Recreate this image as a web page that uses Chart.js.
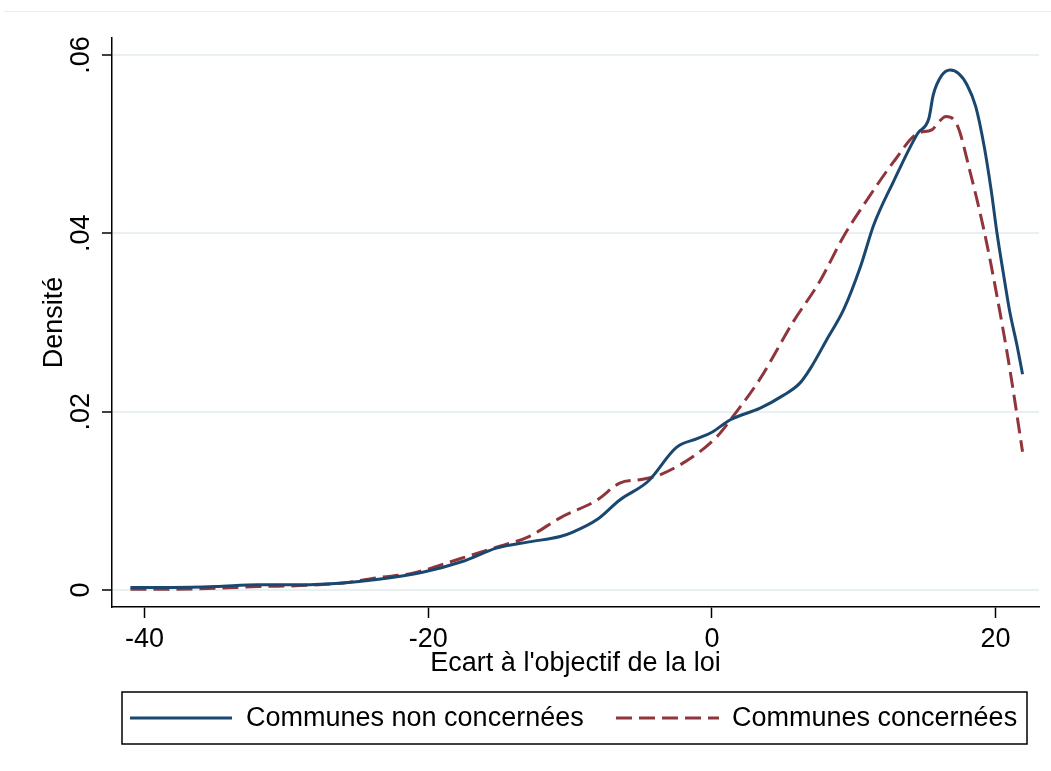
<!DOCTYPE html>
<html lang="fr">
<head>
<meta charset="utf-8">
<title>Densité de l'écart à l'objectif de la loi</title>
<script src="https://cdn.jsdelivr.net/npm/chart.js@4/dist/chart.umd.min.js"></script>
<style>
  html, body { margin: 0; padding: 0; background: #ffffff; }
  #wrap { width: 1051px; height: 771px; position: relative; }
  canvas { display: block; }
</style>
</head>
<body>
<div id="wrap"><canvas id="densite" width="1051" height="771"></canvas></div>
<script>
// Kernel density estimates of the gap to the legal target
const seriesNames = ['Communes non concernées', 'Communes concernées'];

const xNonConcernees = [-41.0, -38, -35, -32, -29, -26, -23.5, -20.4, -17.6, -15.2, -12.9, -10.7, -9.8, -8.1, -6.5, -4.5, -2.5, -1, 0, 1.3, 3.4, 5, 6.2, 7, 8.1, 9.3, 10.5, 11.4, 12.8, 14.5, 15.3, 15.6, 16.2, 16.8, 17.4, 18.0, 18.6, 19.2, 19.7, 20.1, 20.6, 21.0, 21.5, 21.9];
const yNonConcernees = [0.0003, 0.0003, 0.0004, 0.0006, 0.0006, 0.0008, 0.0012, 0.0020, 0.0032, 0.0047, 0.0054, 0.0060, 0.0065, 0.0079, 0.0101, 0.0122, 0.0160, 0.0170, 0.0177, 0.0191, 0.0204, 0.0218, 0.0232, 0.0250, 0.0281, 0.0315, 0.0364, 0.0409, 0.0458, 0.0512, 0.0529, 0.0555, 0.0577, 0.0583, 0.0579, 0.0566, 0.0542, 0.0497, 0.0447, 0.0400, 0.0350, 0.0312, 0.0275, 0.0242];

const xConcernees = [-41.0, -38, -35, -32, -29, -26, -23.5, -21.1, -17.6, -15.2, -12.9, -10.7, -8.1, -6.5, -5, -3.7, -1.3, 0.35, 1.5, 3.4, 5.7, 7.6, 9.3, 11.0, 12.8, 14.5, 15.5, 16.0, 16.5, 17.3, 18.2, 19.2, 20.0, 21.0, 21.9];
const yConcernees = [0.0001, 0.0001, 0.0002, 0.0004, 0.0005, 0.0008, 0.0014, 0.0019, 0.0036, 0.0048, 0.0060, 0.0081, 0.0101, 0.0120, 0.0124, 0.0129, 0.0150, 0.0172, 0.0195, 0.0237, 0.0300, 0.0346, 0.0397, 0.0439, 0.0480, 0.0512, 0.0516, 0.0525, 0.0531, 0.0521, 0.0469, 0.0402, 0.0338, 0.0248, 0.0155];

const xTickValues = [-40, -20, 0, 20];
const yTickValues = [0, 0.02, 0.04, 0.06];
const yTickLabels = ['0', '.02', '.04', '.06'];

const xTitle = "Ecart à l'objectif de la loi";
const yTitle = 'Densité';

const BLUE = '#1a476f';
const RED = '#90353b';
const GRID = '#e9f0f2';
const FONT = "'Liberation Sans', Arial, sans-serif";
const FS = 27;

const toPoints = (xs, ys) => xs.map((x, i) => ({ x: x, y: ys[i] }));

// Boxed legend below the plot, two keys on one row
const boxedLegend = {
  id: 'boxedLegend',
  afterDraw(chart) {
    const ctx = chart.ctx;
    const box = { l: 122, t: 692, r: 1027, b: 744 };
    const cy = (box.t + box.b) / 2;
    ctx.save();
    ctx.strokeStyle = '#000000';
    ctx.lineWidth = 1.5;
    ctx.strokeRect(box.l, box.t, box.r - box.l, box.b - box.t);
    const keys = [
      { x0: 130, x1: 232, tx: 246, ds: chart.data.datasets[0] },
      { x0: 616, x1: 719, tx: 732, ds: chart.data.datasets[1] }
    ];
    keys.forEach(k => {
      ctx.beginPath();
      ctx.setLineDash(k.ds.borderDash || []);
      ctx.strokeStyle = k.ds.borderColor;
      ctx.lineWidth = k.ds.borderWidth;
      ctx.moveTo(k.x0, cy);
      ctx.lineTo(k.x1, cy);
      ctx.stroke();
      ctx.setLineDash([]);
      ctx.fillStyle = '#000000';
      ctx.font = FS + 'px ' + FONT;
      ctx.textAlign = 'left';
      ctx.textBaseline = 'middle';
      ctx.fillText(k.ds.label, k.tx, cy + 1);
    });
    ctx.restore();
  }
};

// White page with a faint rule near the top edge
const pageBackground = {
  id: 'pageBackground',
  beforeDraw(chart) {
    const ctx = chart.ctx;
    ctx.save();
    ctx.fillStyle = '#ffffff';
    ctx.fillRect(0, 0, chart.width, chart.height);
    ctx.strokeStyle = '#eeeeee';
    ctx.lineWidth = 1;
    ctx.beginPath();
    ctx.moveTo(4, 11.5);
    ctx.lineTo(chart.width, 11.5);
    ctx.stroke();
    ctx.restore();
  }
};

new Chart(document.getElementById('densite'), {
  type: 'line',
  data: {
    datasets: [
      {
        label: seriesNames[0],
        data: toPoints(xNonConcernees, yNonConcernees),
        borderColor: BLUE,
        borderWidth: 3,
        pointRadius: 0,
        fill: false,
        cubicInterpolationMode: 'monotone'
      },
      {
        label: seriesNames[1],
        data: toPoints(xConcernees, yConcernees),
        borderColor: RED,
        borderWidth: 3,
        borderDash: [16, 7],
        pointRadius: 0,
        fill: false,
        cubicInterpolationMode: 'monotone'
      }
    ]
  },
  options: {
    responsive: false,
    animation: false,
    devicePixelRatio: 1,
    layout: { padding: { left: 0, right: 12, top: 38, bottom: 0 } },
    plugins: {
      legend: { display: false },
      tooltip: { enabled: false },
      title: { display: false }
    },
    scales: {
      x: {
        type: 'linear',
        min: -42.3,
        max: 23.06,
        afterFit(scale) { scale.height = 164; },
        afterBuildTicks(scale) { scale.ticks = xTickValues.map(v => ({ value: v })); },
        border: { display: true, color: '#000000', width: 1.5 },
        grid: {
          drawOnChartArea: false,
          drawTicks: true,
          tickLength: 11,
          tickColor: '#000000',
          tickWidth: 1.5
        },
        ticks: {
          color: '#000000',
          font: { family: FONT, size: FS },
          padding: 5,
          maxRotation: 0,
          callback: v => String(v)
        },
        title: {
          display: true,
          text: xTitle,
          color: '#000000',
          font: { family: FONT, size: FS },
          padding: { top: 0, bottom: 91 }
        }
      },
      y: {
        type: 'linear',
        min: -0.0019,
        max: 0.0619,
        afterFit(scale) { scale.width = 112; },
        afterBuildTicks(scale) { scale.ticks = yTickValues.map(v => ({ value: v })); },
        border: { display: true, color: '#000000', width: 1.5 },
        grid: {
          color: GRID,
          lineWidth: 2,
          drawTicks: true,
          tickLength: 10,
          tickColor: '#000000',
          tickWidth: 1.5
        },
        ticks: {
          color: '#000000',
          font: { family: FONT, size: FS },
          padding: 2,
          minRotation: 90,
          maxRotation: 90,
          crossAlign: 'center',
          callback: v => {
            const i = yTickValues.findIndex(t => Math.abs(t - v) < 1e-9);
            return i >= 0 ? yTickLabels[i] : '';
          }
        },
        title: {
          display: true,
          text: yTitle,
          color: '#000000',
          font: { family: FONT, size: FS },
          padding: { top: 38, bottom: 0 }
        }
      }
    }
  },
  plugins: [pageBackground, boxedLegend]
});
</script>
</body>
</html>
